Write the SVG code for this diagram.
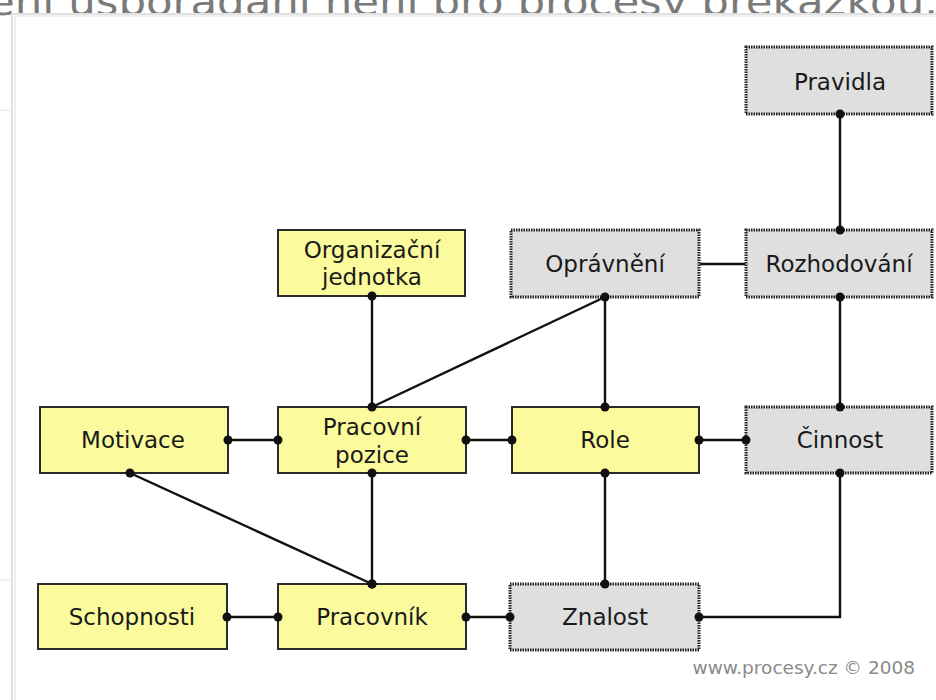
<svg xmlns="http://www.w3.org/2000/svg" width="936" height="700" viewBox="0 0 936 700">
  <defs>
    <marker id="dot" viewBox="0 0 12 12" refX="6" refY="6" markerWidth="12" markerHeight="12" markerUnits="userSpaceOnUse">
      <circle cx="6" cy="6" r="4.5" fill="#111"/>
    </marker>
    <style>
      .yel { fill: #fbfa9c; stroke: #2a2a2a; stroke-width: 2; }
      .gry { fill: #dfdfdf; stroke: #222; stroke-width: 3; stroke-dasharray: 1.5 1; }
      .lbl { font-family: "DejaVu Sans", Verdana, sans-serif; font-size: 23px; fill: #1a1a1a; text-anchor: middle; }
      .con { fill: none; stroke: #111; stroke-width: 2.4; }
      .end { marker-start: url(#dot); marker-end: url(#dot); }
    </style>
  </defs>

  <rect width="936" height="700" fill="#ffffff"/>

  <!-- heading line of the surrounding page, partly hidden under the panel -->
  <text x="-12" y="15" font-family="DejaVu Sans, sans-serif" font-size="38" fill="#7a7a7a" textLength="950" lengthAdjust="spacingAndGlyphs">ení uspořádání není pro procesy překážkou.</text>

  <!-- page chrome at the left edge -->
  <line x1="0" y1="110" x2="13" y2="110" stroke="#e4e4e4" stroke-width="1"/>
  <line x1="0" y1="580" x2="13" y2="580" stroke="#e4e4e4" stroke-width="1"/>

  <!-- white panel holding the chart -->
  <rect x="12" y="14" width="930" height="700" fill="#ffffff" stroke="#e2e2e2" stroke-width="2"/>
  <line x1="16" y1="16" x2="936" y2="16" stroke="#f0f0f0" stroke-width="2"/>
  <line x1="15" y1="16" x2="15" y2="700" stroke="#f0f0f0" stroke-width="2"/>

  <!-- nodes -->
  <g id="pravidla">
    <rect class="gry" x="746" y="47" width="186" height="67"/>
    <text class="lbl" x="840" y="90">Pravidla</text>
  </g>
  <g id="organizacni-jednotka">
    <rect class="yel" x="278" y="230" width="187" height="66"/>
    <text class="lbl" x="372" y="258">Organizační</text>
    <text class="lbl" x="372" y="285">jednotka</text>
  </g>
  <g id="opravneni">
    <rect class="gry" x="511" y="230" width="188" height="67"/>
    <text class="lbl" x="605" y="272">Oprávnění</text>
  </g>
  <g id="rozhodovani">
    <rect class="gry" x="746" y="230" width="186" height="67"/>
    <text class="lbl" x="839" y="272">Rozhodování</text>
  </g>
  <g id="motivace">
    <rect class="yel" x="40" y="407" width="188" height="66"/>
    <text class="lbl" x="133" y="448">Motivace</text>
  </g>
  <g id="pracovni-pozice">
    <rect class="yel" x="278" y="407" width="188" height="66"/>
    <text class="lbl" x="372" y="435">Pracovní</text>
    <text class="lbl" x="372" y="463">pozice</text>
  </g>
  <g id="role">
    <rect class="yel" x="512" y="407" width="187" height="66"/>
    <text class="lbl" x="605" y="448">Role</text>
  </g>
  <g id="cinnost">
    <rect class="gry" x="746" y="407" width="186" height="66"/>
    <text class="lbl" x="840" y="448">Činnost</text>
  </g>
  <g id="schopnosti">
    <rect class="yel" x="38" y="584" width="189" height="65"/>
    <text class="lbl" x="132" y="625">Schopnosti</text>
  </g>
  <g id="pracovnik">
    <rect class="yel" x="278" y="584" width="188" height="65"/>
    <text class="lbl" x="372" y="625">Pracovník</text>
  </g>
  <g id="znalost">
    <rect class="gry" x="510" y="584" width="189" height="66"/>
    <text class="lbl" x="605" y="625">Znalost</text>
  </g>

  <!-- connectors, drawn over the box borders so the end dots sit on them -->
  <g id="connectors">
    <path class="con end" d="M840,114 V230"/>
    <path class="con end" d="M840,297 V407"/>
    <path class="con" d="M700,264 H745"/>
    <path class="con end" d="M372,296 V407"/>
    <path class="con end" d="M605,297 V407"/>
    <path class="con" d="M605,297 L372,407"/>
    <path class="con end" d="M228,440 H278"/>
    <path class="con end" d="M466,440 H512"/>
    <path class="con end" d="M699,440 H746"/>
    <path class="con end" d="M372,473 V584"/>
    <path class="con end" d="M130,473 L372,584"/>
    <path class="con end" d="M605,473 V584"/>
    <path class="con end" d="M227,617 H278"/>
    <path class="con end" d="M466,617 H510"/>
    <path class="con end" d="M699,617 H840 V473"/>
  </g>

  <text x="915" y="674" font-family="DejaVu Sans, sans-serif" font-size="18.5" fill="#8a8a8a" text-anchor="end">www.procesy.cz © 2008</text>
</svg>
